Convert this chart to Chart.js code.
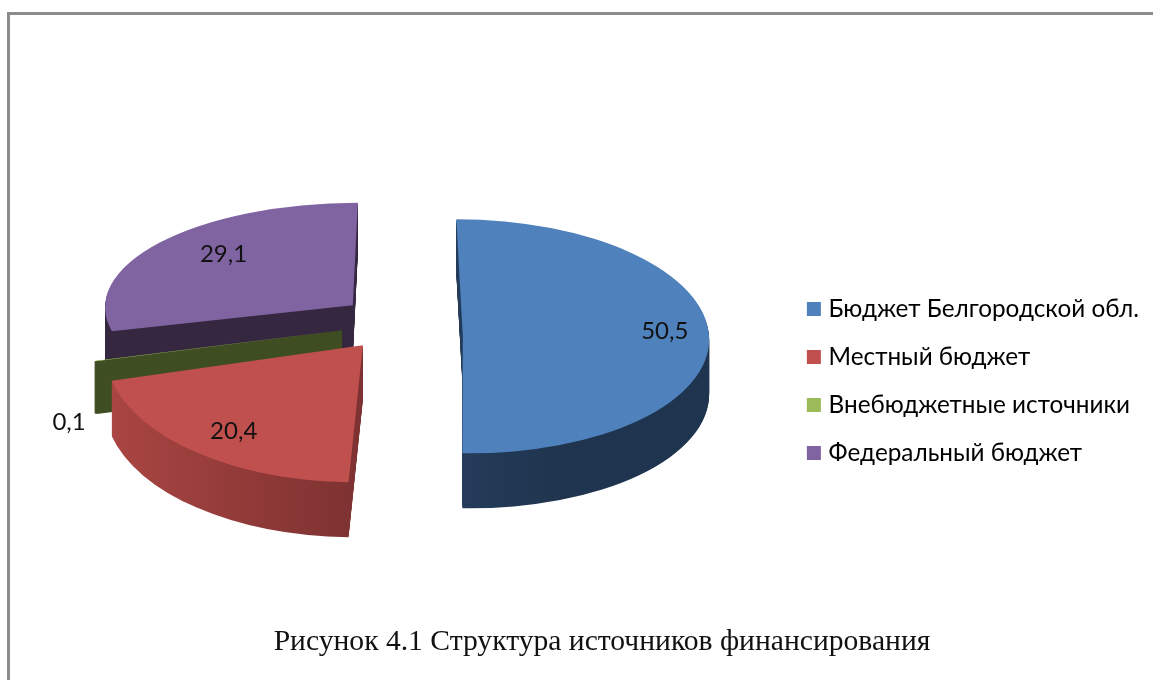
<!DOCTYPE html>
<html>
<head>
<meta charset="utf-8">
<script src="https://cdn.jsdelivr.net/npm/chart.js@4"></script>
<style>
  html, body { margin: 0; padding: 0; background: #fff; }
  #wrap { width: 1153px; height: 680px; }
</style>
</head>
<body>
<div id="wrap"><canvas id="grafico"></canvas></div>
<script>
const categorias = ['Бюджет Белгородской обл.', 'Местный бюджет', 'Внебюджетные источники', 'Федеральный бюджет'];
const valores = [50.5, 20.4, 0.1, 29.1];
const rotulos = ['50,5', '20,4', '0,1', '29,1'];
const titulo = 'Рисунок 4.1 Структура источников финансирования';

const coresTopo = ['#4f81bd', '#c0504d', '#9bbb59', '#8064a2'];
// lado da fatia: gradiente da esquerda para a direita
const coresLado = [
  ['#2f4f75', '#1f344e'],
  ['#ab4643', '#6b2a2a'],
  ['#3f4d22', '#3f4d22'],
  ['#35273f', '#35273f']
];

// "3D" falso: cada fatia e deslocada e achatada a partir do centro da pizza
const vistas = [
  { dx: 60, dy: -4, sx: 0.984, sy: 0.468, skew: 0.026, prof: 55, traco: 0 },
  { dx: -40, dy: 5, sx: 1.032, sy: 0.548, skew: -0.028, prof: 55, traco: 0 },
  { dx: -61, dy: -10, sx: 1.016, sy: 0.48, skew: 0, prof: 52, traco: 3 },
  { dx: -50, dy: -35, sx: 0.99, sy: 0.41, skew: -0.02, prof: 50, traco: 0 }
];
const ordemDesenho = [3, 0, 2, 1];
const posRotulo = [
  { f: 0.82, dy: -6 },
  { f: 0.78, dy: 2 },
  { f: 1.11, dy: 58 },
  { f: 0.67, dy: -9 }
];

function aplicarVista(ctx, arc, v, desloc) {
  ctx.translate(arc.x + v.dx, arc.y + v.dy + desloc);
  ctx.transform(v.sx, 0, v.skew, v.sy, 0, 0);
  ctx.translate(-arc.x, -arc.y);
}

const pizza3d = {
  id: 'pizza3d',
  beforeDatasetDraw(chart) {
    const ctx = chart.ctx;
    const arcos = chart.getDatasetMeta(0).data;
    ordemDesenho.forEach(i => {
      const arc = arcos[i];
      const v = vistas[i];
      const original = arc.options;

      const grad = ctx.createLinearGradient(arc.x - arc.outerRadius, 0, arc.x + arc.outerRadius * 0.4, 0);
      grad.addColorStop(0, coresLado[i][0]);
      grad.addColorStop(1, coresLado[i][1]);
      arc.options = Object.assign({}, original, { backgroundColor: grad, borderColor: grad, borderWidth: v.traco });
      for (let k = v.prof; k > 0; k--) {
        ctx.save();
        aplicarVista(ctx, arc, v, k);
        arc.draw(ctx);
        ctx.restore();
      }

      arc.options = original;
      ctx.save();
      aplicarVista(ctx, arc, v, 0);
      arc.draw(ctx);
      ctx.restore();
    });
    return false;
  },
  afterDraw(chart) {
    const ctx = chart.ctx;
    const arcos = chart.getDatasetMeta(0).data;
    ctx.save();
    ctx.font = '24px Lato, "Open Sans", sans-serif';
    ctx.fillStyle = '#111';
    ctx.textAlign = 'center';
    ctx.textBaseline = 'middle';
    arcos.forEach((arc, i) => {
      const v = vistas[i];
      const p = posRotulo[i];
      const meio = (arc.startAngle + arc.endAngle) / 2;
      const r = arc.outerRadius * p.f;
      const x = arc.x + v.dx + Math.cos(meio) * r * v.sx + Math.sin(meio) * r * v.skew;
      const y = arc.y + v.dy + Math.sin(meio) * r * v.sy + p.dy;
      ctx.fillText(rotulos[i], x, y);
    });
    ctx.restore();
  }
};

const moldura = {
  id: 'moldura',
  beforeDraw(chart) {
    const ctx = chart.ctx;
    ctx.save();
    ctx.strokeStyle = '#8c8c8c';
    ctx.lineWidth = 3;
    ctx.beginPath();
    ctx.moveTo(8.5, 680);
    ctx.lineTo(8.5, 13.5);
    ctx.lineTo(1153, 13.5);
    ctx.stroke();
    ctx.restore();
  }
};

const ajusteCaixas = {
  id: 'ajusteCaixas',
  afterLayout(chart) {
    chart.legend.top += 6;
    chart.legend.bottom += 6;
    chart.titleBlock.left += 18.5;
    chart.titleBlock.right += 18.5;
  }
};

new Chart(document.getElementById('grafico'), {
  type: 'pie',
  data: {
    labels: categorias,
    datasets: [{
      data: valores,
      backgroundColor: coresTopo,
      borderWidth: 0
    }]
  },
  options: {
    responsive: true,
    maintainAspectRatio: false,
    animation: false,
    layout: { padding: { top: 90, left: 18, right: 4, bottom: 20 } },
    plugins: {
      tooltip: { enabled: false },
      title: {
        display: true,
        text: titulo,
        position: 'bottom',
        color: '#111',
        padding: { top: 34, bottom: 0 },
        font: { family: '"Liberation Serif", serif', size: 29.6, weight: 'normal' }
      },
      legend: {
        position: 'right',
        labels: {
          boxWidth: 5,
          boxHeight: 5,
          padding: 23.7,
          color: '#111',
          font: { family: 'Lato, "Open Sans", sans-serif', size: 24.3 },
          generateLabels(chart) {
            return categorias.map((nome, i) => ({
              text: nome,
              fillStyle: coresTopo[i],
              strokeStyle: coresTopo[i],
              lineWidth: 9,
              index: i
            }));
          }
        }
      }
    }
  },
  plugins: [moldura, pizza3d, ajusteCaixas]
});
</script>
</body>
</html>
